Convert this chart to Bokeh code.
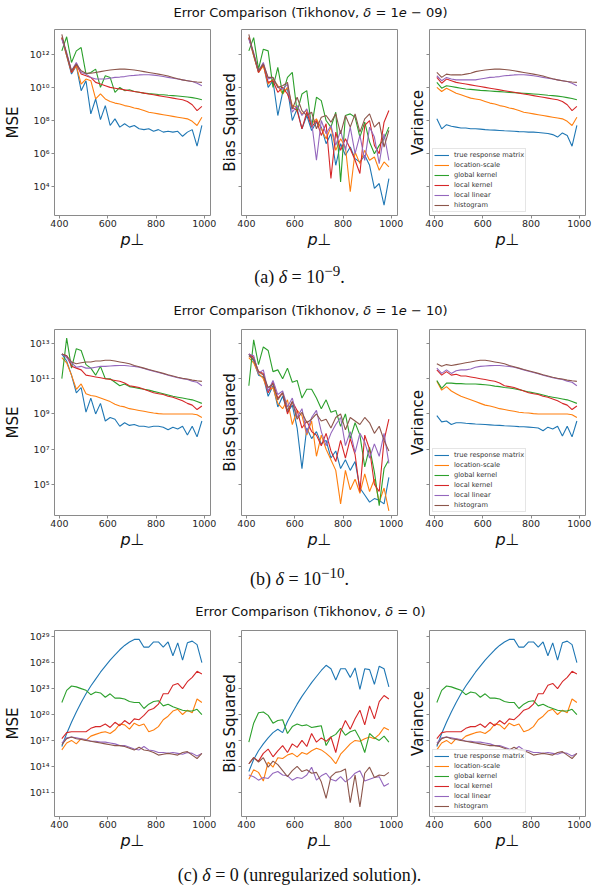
import numpy as np
from bokeh.plotting import figure
from bokeh.models import Range1d, FixedTicker, CustomJSTickFormatter, Div
from bokeh.layouts import row, column
from bokeh.embed import file_html
from bokeh.resources import INLINE

# ---------------- data (log10 of the plotted values) ----------------
p_perp = [410, 430, 450, 470, 490, 510, 530, 550, 570, 590, 610, 630, 650, 670, 690,
          710, 730, 750, 770, 790, 810, 830, 850, 870, 890, 910, 930, 950, 970, 990]

methods = ["true response matrix", "location-scale", "global kernel",
           "local kernel", "local linear", "histogram"]
colors = ["#1f77b4", "#ff7f0e", "#2ca02c", "#d62728", "#9467bd", "#8c564b"]

# (a) delta = 1e-09
mse9_true = [13.0, 11.9, 10.8, 11.3, 9.8, 10.4, 8.4, 9.3, 8.05, 8.9, 7.7, 8.1, 7.6, 7.8, 7.6,
             7.7, 7.5, 7.45, 7.5, 7.35, 7.45, 7.3, 7.35, 7.3, 7.35, 7.05, 7.3, 7.45, 6.45, 7.7]
mse9_locscale = [13.0, 11.9, 10.9, 11.3, 10.2, 10.5, 10.4, 9.3, 9.6, 9.3, 9.15, 9.05, 9.0, 8.9, 8.85,
                 8.75, 8.7, 8.6, 8.5, 8.45, 8.4, 8.35, 8.3, 8.25, 8.2, 8.15, 8.1, 7.95, 7.7, 8.2]
mse9_global = [12.2, 13.05, 11.5, 12.2, 12.4, 10.8, 10.9, 11.1, 10.0, 10.7, 10.6, 9.7, 10.0, 9.8, 9.85,
               9.75, 9.7, 9.65, 9.62, 9.6, 9.57, 9.55, 9.52, 9.5, 9.48, 9.45, 9.42, 9.38, 9.33, 9.25]
mse9_localk = [13.0, 12.0, 10.9, 11.4, 10.8, 10.7, 10.6, 10.3, 10.2, 10.1, 10.0, 9.95, 9.9, 9.85, 9.8,
               9.75, 9.7, 9.65, 9.6, 9.55, 9.5, 9.45, 9.4, 9.35, 9.3, 9.25, 9.15, 8.95, 8.6, 8.85]
mse9_loclin = [12.9, 12.1, 11.0, 11.5, 10.9, 10.8, 10.6, 10.5, 10.5, 10.5, 10.55, 10.6, 10.62, 10.65, 10.7,
               10.72, 10.75, 10.76, 10.76, 10.74, 10.7, 10.65, 10.6, 10.55, 10.5, 10.45, 10.4, 10.35, 10.25, 10.1]
mse9_hist = [13.2, 12.0, 11.0, 11.4, 11.0, 10.85, 10.85, 10.9, 10.95, 11.0, 11.05, 11.08, 11.1, 11.1, 11.08,
             11.05, 11.0, 10.95, 10.9, 10.85, 10.8, 10.75, 10.68, 10.6, 10.52, 10.45, 10.4, 10.35, 10.32, 10.3]

bias9_true = [13.0, 11.9, 10.9, 11.4, 10.0, 10.4, 8.3, 9.7, 9.9, 8.0, 8.7, 7.5, 8.3, 7.4, 7.9,
              7.6, 6.6, 7.2, 5.3, 6.6, 5.9, 6.4, 5.7, 5.5, 5.9, 5.3, 3.9, 4.2, 2.9, 4.5]
bias9_locscale = [13.0, 11.9, 10.9, 11.3, 10.2, 10.5, 10.1, 9.6, 10.0, 8.9, 8.8, 8.4, 8.6, 7.8, 8.1,
                  7.5, 6.9, 7.6, 6.2, 6.9, 6.4, 3.7, 6.1, 5.4, 6.2, 5.6, 5.8, 5.0, 5.5, 5.2]
bias9_global = [12.2, 13.0, 11.1, 12.3, 12.2, 10.0, 11.2, 9.6, 10.6, 10.9, 8.5, 9.6, 9.8, 7.6, 9.4,
                9.2, 8.0, 7.6, 8.5, 4.3, 8.3, 8.4, 8.2, 7.0, 7.9, 6.7, 6.0, 6.5, 6.9, 7.6]
bias9_localk = [13.0, 12.0, 10.9, 11.4, 10.3, 10.4, 9.7, 10.0, 9.6, 8.8, 8.6, 7.5, 8.5, 7.6, 8.0,
                7.1, 7.8, 4.5, 7.3, 6.2, 6.9, 6.3, 5.6, 4.8, 7.7, 8.0, 6.5, 6.0, 7.9, 8.6]
bias9_loclin = [12.9, 12.1, 11.0, 11.5, 10.5, 10.6, 10.0, 9.9, 10.2, 8.5, 8.9, 8.3, 8.7, 7.9, 5.6,
                8.0, 7.2, 7.7, 6.5, 7.4, 6.2, 7.6, 6.0, 7.1, 5.6, 7.6, 7.0, 5.4, 7.2, 5.6]
bias9_hist = [13.2, 12.0, 11.0, 11.4, 10.6, 10.6, 10.0, 10.1, 10.3, 8.7, 9.4, 8.6, 8.3, 8.5, 7.5,
              8.2, 8.3, 7.9, 8.4, 7.2, 8.3, 7.6, 8.4, 7.3, 8.1, 8.4, 7.6, 7.9, 6.4, 7.4]

var9_true = [8.1, 7.5, 7.75, 7.65, 7.6, 7.55, 7.55, 7.5, 7.5, 7.48, 7.45, 7.43, 7.42, 7.4, 7.38,
             7.37, 7.35, 7.33, 7.32, 7.3, 7.3, 7.28, 7.25, 7.22, 7.15, 7.0, 7.25, 7.1, 6.45, 7.7]
var9_locscale = [10.0, 9.75, 9.95, 9.8, 9.65, 9.55, 9.45, 9.35, 9.3, 9.25, 9.15, 9.05, 9.0, 8.9, 8.85,
                 8.75, 8.7, 8.6, 8.5, 8.45, 8.4, 8.35, 8.3, 8.25, 8.2, 8.15, 8.1, 7.95, 7.7, 8.2]
var9_global = [10.3, 9.95, 10.1, 10.05, 10.0, 9.95, 9.9, 9.88, 9.85, 9.82, 9.8, 9.78, 9.76, 9.74, 9.72,
               9.7, 9.68, 9.66, 9.64, 9.62, 9.6, 9.58, 9.55, 9.52, 9.5, 9.47, 9.43, 9.38, 9.33, 9.25]
var9_localk = [10.6, 10.25, 10.5, 10.4, 10.3, 10.25, 10.2, 10.15, 10.1, 10.05, 10.0, 9.95, 9.9, 9.85, 9.8,
               9.75, 9.7, 9.65, 9.6, 9.55, 9.5, 9.45, 9.4, 9.35, 9.3, 9.25, 9.15, 8.95, 8.6, 8.85]
var9_loclin = [10.7, 10.4, 10.6, 10.5, 10.45, 10.45, 10.45, 10.45, 10.45, 10.5, 10.55, 10.6, 10.62, 10.65, 10.7,
               10.72, 10.75, 10.76, 10.76, 10.74, 10.7, 10.65, 10.6, 10.55, 10.5, 10.45, 10.4, 10.35, 10.25, 10.1]
var9_hist = [10.9, 10.6, 10.8, 10.75, 10.75, 10.75, 10.8, 10.85, 10.95, 11.0, 11.05, 11.08, 11.1, 11.1, 11.08,
             11.05, 11.0, 10.95, 10.9, 10.85, 10.8, 10.75, 10.68, 10.6, 10.52, 10.45, 10.4, 10.35, 10.32, 10.3]

# (b) delta = 1e-10
mse10_true = [12.4, 12.0, 11.2, 10.2, 10.5, 9.1, 9.9, 9.0, 9.6, 8.6, 8.8, 8.7, 8.3, 8.5, 8.35,
              8.4, 8.3, 8.3, 8.25, 8.3, 8.3, 8.25, 8.1, 8.25, 8.15, 8.3, 7.8, 8.3, 7.7, 8.6]
mse10_locscale = [12.2, 11.9, 11.2, 10.4, 10.7, 10.15, 10.05, 10.0, 9.9, 9.8, 9.7, 9.55, 9.45, 9.4, 9.3,
                  9.25, 9.2, 9.15, 9.1, 9.05, 9.02, 9.0, 9.0, 9.0, 9.0, 9.0, 9.0, 9.0, 8.95, 8.8]
mse10_global = [11.0, 13.3, 11.6, 12.7, 12.6, 11.8, 11.6, 11.2, 11.7, 11.0, 11.0, 10.8, 10.6, 10.7, 10.55,
                10.5, 10.45, 10.4, 10.35, 10.28, 10.22, 10.15, 10.08, 10.0, 9.95, 9.9, 9.85, 9.8, 9.7, 9.6]
mse10_localk = [12.4, 12.3, 11.7, 11.6, 11.5, 11.2, 11.15, 11.1, 11.05, 11.0, 10.95, 10.9, 10.85, 10.75, 10.6,
                10.55, 10.5, 10.4, 10.3, 10.2, 10.15, 10.1, 10.0, 9.95, 9.85, 9.75, 9.6, 9.5, 9.25, 9.45]
mse10_loclin = [12.4, 12.2, 11.9, 11.65, 11.7, 11.6, 11.6, 11.65, 11.7, 11.7, 11.72, 11.74, 11.75, 11.75, 11.72,
                11.7, 11.65, 11.58, 11.5, 11.42, 11.35, 11.28, 11.2, 11.12, 11.05, 11.0, 10.95, 10.85, 10.8, 10.6]
mse10_hist = [12.4, 12.3, 11.95, 11.85, 11.9, 11.95, 11.95, 12.0, 12.0, 12.05, 12.05, 12.0, 11.95, 11.9, 11.85,
              11.75, 11.68, 11.6, 11.52, 11.45, 11.38, 11.3, 11.22, 11.15, 11.08, 11.02, 10.98, 10.92, 10.88, 10.85]

bias10_true = [12.4, 12.0, 11.2, 11.1, 10.0, 10.6, 9.4, 10.0, 9.1, 9.5, 8.2, 5.9, 8.2, 7.6, 8.0,
               7.3, 7.5, 6.5, 6.9, 5.9, 6.4, 5.8, 6.3, 4.8, 4.4, 4.0, 4.2, 4.1, 3.9, 5.4]
bias10_locscale = [12.2, 11.9, 11.3, 11.0, 10.3, 10.5, 9.6, 9.3, 9.8, 8.4, 9.2, 8.9, 7.8, 8.6, 6.6,
                   7.8, 7.0, 6.4, 5.8, 3.9, 5.8, 4.7, 5.3, 4.5, 5.6, 4.6, 5.3, 4.0, 4.8, 3.5]
bias10_global = [10.6, 13.2, 11.8, 12.8, 12.6, 11.4, 11.5, 11.0, 11.6, 10.8, 10.9, 9.9, 10.4, 10.4, 9.9,
                 9.3, 9.8, 9.1, 9.2, 8.3, 9.0, 7.6, 8.5, 7.8, 6.0, 7.1, 5.7, 3.8, 5.9, 6.4]
bias10_localk = [12.4, 12.2, 11.4, 11.3, 10.2, 10.8, 9.9, 10.2, 9.0, 9.7, 9.2, 8.2, 8.6, 8.0, 7.8,
                 7.2, 7.9, 6.9, 6.3, 7.5, 6.5, 7.6, 6.7, 4.6, 7.8, 7.0, 5.0, 4.6, 7.5, 8.7]
bias10_loclin = [12.4, 12.3, 11.3, 11.5, 10.3, 10.9, 10.1, 10.3, 9.4, 9.9, 8.8, 9.3, 7.9, 8.8, 9.2,
                 8.0, 7.2, 7.9, 8.4, 8.8, 7.2, 8.0, 6.8, 7.9, 7.4, 6.5, 7.3, 6.6, 7.9, 6.2]
bias10_hist = [12.3, 12.1, 11.4, 11.2, 10.5, 10.7, 9.8, 10.2, 9.2, 9.7, 8.7, 9.1, 8.5, 8.7, 9.0,
               8.6, 8.7, 8.2, 8.8, 9.0, 8.1, 8.8, 8.6, 8.4, 8.8, 8.5, 7.9, 8.3, 7.5, 6.9]

var10_true = [8.9, 8.55, 8.6, 8.4, 8.5, 8.5, 8.47, 8.45, 8.43, 8.42, 8.4, 8.38, 8.36, 8.35, 8.33,
              8.32, 8.3, 8.28, 8.27, 8.25, 8.23, 8.2, 8.05, 8.25, 8.15, 8.3, 7.75, 8.3, 7.7, 8.6]
var10_locscale = [10.85, 10.35, 10.55, 10.3, 10.15, 10.0, 9.9, 9.8, 9.7, 9.6, 9.5, 9.45, 9.38, 9.3, 9.25,
                  9.2, 9.15, 9.1, 9.07, 9.05, 9.02, 9.0, 9.0, 9.0, 9.0, 9.0, 9.0, 9.0, 8.95, 8.8]
var10_global = [10.9, 10.45, 10.75, 10.75, 10.72, 10.72, 10.7, 10.7, 10.7, 10.68, 10.66, 10.63, 10.58, 10.55, 10.5,
                10.47, 10.43, 10.38, 10.32, 10.25, 10.2, 10.15, 10.08, 10.0, 9.95, 9.9, 9.85, 9.8, 9.7, 9.6]
var10_localk = [11.5, 11.2, 11.4, 11.2, 11.25, 11.15, 11.15, 11.1, 11.05, 11.0, 10.95, 10.9, 10.85, 10.75, 10.6,
                10.55, 10.5, 10.4, 10.3, 10.2, 10.15, 10.1, 10.0, 9.95, 9.85, 9.75, 9.6, 9.5, 9.25, 9.45]
var10_loclin = [11.6, 11.3, 11.5, 11.3, 11.45, 11.5, 11.5, 11.55, 11.65, 11.7, 11.72, 11.74, 11.75, 11.75, 11.72,
                11.7, 11.65, 11.58, 11.5, 11.42, 11.35, 11.28, 11.2, 11.12, 11.05, 11.0, 10.95, 10.85, 10.8, 10.6]
var10_hist = [11.85, 11.7, 11.8, 11.75, 11.8, 11.85, 11.9, 11.95, 12.0, 12.05, 12.05, 12.0, 11.95, 11.9, 11.85,
              11.75, 11.68, 11.6, 11.52, 11.45, 11.38, 11.3, 11.22, 11.15, 11.08, 11.02, 10.98, 10.92, 10.88, 10.85]

# (c) delta = 0
mse0_true = [16.3, 17.8, 19.1, 20.3, 21.4, 22.4, 23.3, 24.1, 24.9, 25.6, 26.3, 26.9, 27.5, 28.0, 28.4,
             28.7, 28.7, 27.8, 27.8, 28.4, 28.4, 27.8, 28.4, 26.8, 28.3, 26.3, 28.3, 28.5, 28.1, 26.0]
mse0_locscale = [15.9, 16.7, 17.0, 16.6, 17.2, 17.0, 17.5, 17.7, 17.9, 18.0, 17.8, 18.2, 18.9, 18.8, 18.3,
                 19.0, 18.7, 18.9, 18.0, 18.2, 18.6, 19.4, 19.8, 20.4, 20.6, 20.0, 20.5, 20.2, 21.8, 21.4]
mse0_global = [21.4, 22.8, 23.3, 23.2, 23.0, 22.8, 22.3, 22.6, 22.5, 22.0, 22.4, 21.9, 21.9, 21.8, 21.5,
               21.4, 21.4, 20.7, 21.2, 21.5, 21.6, 21.0, 21.2, 20.9, 20.7, 20.5, 20.4, 20.4, 20.6, 20.0]
mse0_localk = [17.2, 17.9, 18.0, 18.0, 18.0, 18.0, 18.4, 18.6, 18.6, 18.9, 18.5, 19.1, 18.7, 19.3, 18.9,
               19.5, 19.4, 19.9, 20.5, 20.7, 21.2, 22.4, 22.4, 23.4, 23.6, 23.0, 23.8, 24.3, 25.0, 24.7]
mse0_loclin = [16.7, 17.3, 17.4, 17.3, 17.2, 17.1, 16.9, 16.9, 16.8, 16.8, 16.7, 16.6, 16.4, 16.4, 16.2,
               16.0, 15.9, 16.3, 15.9, 15.8, 15.6, 15.6, 15.5, 15.6, 15.5, 15.4, 15.6, 15.5, 15.2, 15.5]
mse0_hist = [16.5, 17.2, 17.4, 17.2, 17.1, 17.0, 16.9, 16.8, 16.7, 16.6, 16.5, 16.4, 16.4, 16.3, 16.1,
             15.9, 16.2, 15.9, 15.8, 15.6, 15.3, 15.4, 15.5, 15.4, 15.3, 15.6, 15.7, 15.3, 14.9, 15.5]

bias0_true = [13.4, 14.8, 15.8, 16.6, 17.3, 17.9, 18.3, 17.9, 19.2, 20.2, 21.2, 22.1, 22.9, 23.7, 24.4,
              25.1, 25.7, 25.3, 24.0, 25.3, 25.3, 24.3, 25.4, 22.9, 25.3, 25.2, 23.5, 25.6, 25.3, 23.2]
bias0_locscale = [12.5, 13.6, 13.3, 12.3, 14.5, 13.9, 15.0, 14.9, 15.3, 15.5, 15.1, 15.6, 15.4, 15.8, 16.1,
                  15.9, 15.5, 15.0, 14.3, 15.4, 16.0, 16.6, 17.0, 16.9, 17.2, 17.4, 17.2, 17.7, 18.5, 18.2]
bias0_global = [16.8, 19.0, 20.2, 20.3, 19.9, 19.0, 19.3, 19.4, 17.8, 18.6, 18.9, 18.7, 18.8, 18.5, 18.6,
                18.7, 16.4, 17.4, 17.7, 18.4, 17.6, 18.0, 18.2, 17.2, 15.6, 17.8, 17.3, 17.0, 17.5, 16.8]
bias0_localk = [14.3, 15.0, 14.6, 15.5, 16.0, 15.1, 15.8, 16.4, 15.6, 16.6, 16.2, 17.0, 16.3, 17.8, 16.8,
                17.3, 16.9, 17.4, 15.6, 18.0, 19.3, 18.3, 19.5, 20.5, 18.8, 21.0, 19.5, 21.5, 22.2, 21.8]
bias0_loclin = [13.0, 12.8, 12.4, 12.7, 12.6, 13.2, 13.4, 13.0, 12.9, 12.4, 12.7, 12.6, 13.0, 13.9, 12.4,
                12.9, 13.2, 12.5, 12.3, 12.8, 12.2, 12.6, 13.2, 13.5, 12.3, 12.5, 12.7, 12.8, 11.7, 12.0]
bias0_hist = [14.3, 15.0, 14.5, 15.0, 13.9, 14.6, 14.2, 13.5, 12.8, 13.5, 14.0, 13.4, 13.6, 13.2, 13.3,
              12.2, 10.3, 12.8, 13.3, 13.4, 13.7, 9.8, 13.0, 9.3, 13.2, 13.9, 12.7, 13.0, 12.9, 13.3]

var0_true = mse0_true
var0_locscale = mse0_locscale
var0_global = mse0_global
var0_localk = mse0_localk
var0_loclin = mse0_loclin
var0_hist = mse0_hist

titles = ["Error Comparison (Tikhonov, <i>&delta;</i> = 1<i>e</i> &minus; 09)",
          "Error Comparison (Tikhonov, <i>&delta;</i> = 1<i>e</i> &minus; 10)",
          "Error Comparison (Tikhonov, <i>&delta;</i> = 0)"]
captions = ["(a) <i>&delta;</i> = 10<sup>&minus;9</sup>.",
            "(b) <i>&delta;</i> = 10<sup>&minus;10</sup>.",
            "(c) <i>&delta;</i> = 0 (unregularized solution)."]
y_labels = ["MSE", "Bias Squared", "Variance"]
x_tick_values = [400, 600, 800, 1000]
row_exponents = [[4, 6, 8, 10, 12], [5, 7, 9, 11, 13], [11, 14, 17, 20, 23, 26, 29]]
row_log_limits = [(2.27, 13.49), (3.24, 13.79), (8.19, 29.73)]

rows_data = [
    [[mse9_true, mse9_locscale, mse9_global, mse9_localk, mse9_loclin, mse9_hist],
     [bias9_true, bias9_locscale, bias9_global, bias9_localk, bias9_loclin, bias9_hist],
     [var9_true, var9_locscale, var9_global, var9_localk, var9_loclin, var9_hist]],
    [[mse10_true, mse10_locscale, mse10_global, mse10_localk, mse10_loclin, mse10_hist],
     [bias10_true, bias10_locscale, bias10_global, bias10_localk, bias10_loclin, bias10_hist],
     [var10_true, var10_locscale, var10_global, var10_localk, var10_loclin, var10_hist]],
    [[mse0_true, mse0_locscale, mse0_global, mse0_localk, mse0_loclin, mse0_hist],
     [bias0_true, bias0_locscale, bias0_global, bias0_localk, bias0_loclin, bias0_hist],
     [var0_true, var0_locscale, var0_global, var0_localk, var0_loclin, var0_hist]],
]

# ---------------- styling / layout ----------------
W = 593
FRAME_W, FRAME_H = 156, 186
BORDERS = [(50, 7), (24, 7), (25, 12)]      # (left, right) per column
TOP_BORDERS = [4, 6, 6]
BOTTOM = 40
FONT = "DejaVu Sans"
FRAME_COLOR = "#8a8a8a"

SUP_JS = """
const s = {"0":"\u2070","1":"\u00b9","2":"\u00b2","3":"\u00b3","4":"\u2074","5":"\u2075",
           "6":"\u2076","7":"\u2077","8":"\u2078","9":"\u2079","-":"\u207b"};
const e = Math.round(Math.log10(tick));
return "10" + String(e).split("").map(c => s[c]).join("");
"""


def make_panel(series, ylabel, lims, exps, col, top):
    lb, rb = BORDERS[col]
    p = figure(frame_width=FRAME_W, frame_height=FRAME_H,
               x_range=Range1d(379.6, 1025.7),
               y_range=Range1d(10 ** lims[0], 10 ** lims[1]),
               y_axis_type="log", output_backend="svg", toolbar_location=None,
               min_border_left=lb, min_border_right=rb,
               min_border_top=top, min_border_bottom=BOTTOM)
    p.background_fill_color = "white"
    p.border_fill_color = "white"
    p.outline_line_color = FRAME_COLOR
    p.outline_line_width = 1
    p.xgrid.visible = False
    p.ygrid.visible = False

    for vals, name, c in zip(series, methods, colors):
        y = np.power(10.0, np.array(vals, dtype=float))
        if col == 2:
            p.line(p_perp, y, line_color=c, line_width=1.1, legend_label=name)
        else:
            p.line(p_perp, y, line_color=c, line_width=1.1)

    xa = p.xaxis[0]
    xa.ticker = FixedTicker(ticks=x_tick_values, minor_ticks=[])
    xa.axis_line_color = None
    xa.major_tick_line_color = FRAME_COLOR
    xa.major_tick_out = 3
    xa.major_tick_in = 0
    xa.major_label_standoff = 1
    xa.major_label_text_font = FONT
    xa.major_label_text_font_size = "9.5px"
    xa.major_label_text_color = "#262626"
    xa.axis_label = "p\u22a5"
    xa.axis_label_text_font = FONT
    xa.axis_label_text_font_style = "italic"
    xa.axis_label_text_font_size = "16px"
    xa.axis_label_text_color = "#111111"
    xa.axis_label_standoff = 0

    ya = p.yaxis[0]
    ya.ticker = FixedTicker(ticks=[10.0 ** e for e in exps], minor_ticks=[])
    ya.axis_line_color = None
    ya.major_tick_line_color = FRAME_COLOR
    ya.major_tick_out = 3
    ya.major_tick_in = 0
    ya.minor_tick_line_color = None
    ya.major_label_text_font = FONT
    ya.major_label_text_font_size = "9.5px"
    ya.major_label_text_color = "#262626"
    if col == 0:
        ya.formatter = CustomJSTickFormatter(code=SUP_JS)
        ya.major_label_standoff = 2
    else:
        ya.formatter = CustomJSTickFormatter(code="return '';")
        ya.major_label_standoff = 0
    ya.axis_label = ylabel
    ya.axis_label_text_font = FONT
    ya.axis_label_text_font_style = "normal"
    ya.axis_label_text_font_size = "15px"
    ya.axis_label_text_color = "#111111"
    ya.axis_label_standoff = 0 if col else 5

    if col == 2:
        lg = p.legend[0]
        lg.location = "bottom_left"
        lg.margin = 3
        lg.padding = 1
        lg.spacing = 0
        lg.label_height = 10
        lg.glyph_height = 10
        lg.glyph_width = 15
        lg.label_standoff = 5
        lg.label_text_font = FONT
        lg.label_text_font_size = "6.7px"
        lg.label_text_color = "#333333"
        lg.border_line_color = "#cccccc"
        lg.border_line_width = 1
        lg.background_fill_alpha = 0.8
    return p


def text_div(html, h, lh, size, family, dx=0, dy=0):
    style = (f"display:block;width:{W}px;font-family:{family};font-size:{size}px;"
             f"line-height:{lh}px;text-align:center;white-space:nowrap;"
             f"position:relative;left:{dx}px;top:{dy}px;color:#111111;")
    return Div(text=f'<div style="{style}">{html}</div>', width=W, height=h,
               margin=(0, 0, 0, 0), styles={"width": f"{W}px"})


SANS = "'DejaVu Sans', sans-serif"
SERIF = "'Liberation Serif', 'Times New Roman', serif"

# heights: (title_h, title_lh), (caption_h, caption_lh, caption_dy)
title_specs = [(25, 25), (24, 24), (24, 24)]
caption_specs = [(44, 38, -3), (45, 42, -3), (32, 38, 0)]

items = []
for r in range(3):
    th, tlh = title_specs[r]
    items.append(text_div(titles[r], th, tlh, 13, SANS, dx=14))
    panels = [make_panel(rows_data[r][c], y_labels[c], row_log_limits[r],
                         row_exponents[r], c, TOP_BORDERS[r]) for c in range(3)]
    items.append(row(*panels, spacing=0))
    ch, clh, cdy = caption_specs[r]
    items.append(text_div(captions[r], ch, clh, 18, SERIF, dx=3, dy=cdy))

layout = column(*items, spacing=0)

open("out.html", "w", encoding="utf-8").write(file_html(layout, INLINE))
